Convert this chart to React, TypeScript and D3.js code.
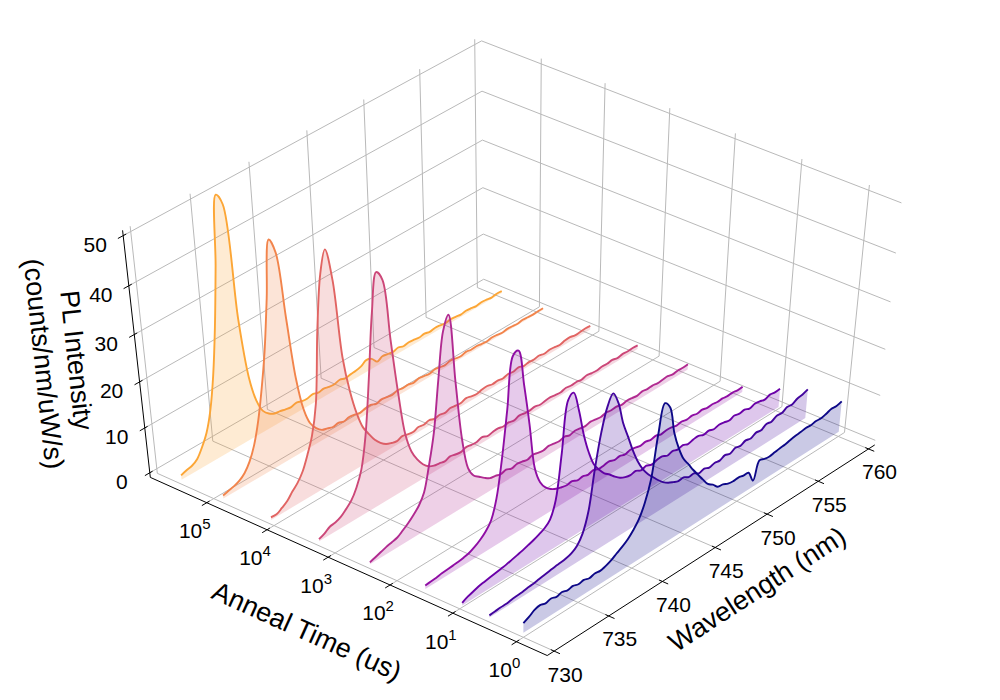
import React from "react";
import * as d3 from "d3";

// sampled wavelengths (nm)
const WAVELENGTH_NM = [
  730, 730.5, 731, 731.5, 732, 732.5, 733, 733.5, 734, 734.5, 735, 735.5, 736, 736.5, 737, 737.5,
  738, 738.5, 739, 739.5, 740, 740.5, 741, 741.5, 742, 742.5, 743, 743.5, 744, 744.5, 745, 745.5,
  746, 746.5, 747, 747.5, 748, 748.5, 749, 749.5, 750, 750.5, 751, 751.5, 752, 752.5, 753, 753.5,
  754, 754.5, 755, 755.5, 756, 756.5, 757, 757.5, 758, 758.5, 759, 759.5, 760,
];

// anneal time of each spectrum (us), back to front
const ANNEAL_TIME_US = [340000, 68000, 11000, 1800, 270, 35, 9.1, 3.4, 1];

// PL intensity (counts/nm/uW/s) on the wavelength grid
const PL_340000 = [1.0, 1.4, 1.7, 2.5, 4.4, 6.9, 11.2, 18.0, 27.5, 39.5, 53.0, 50.5, 26.5, 13.5, 7.6, 4.6, 3.3, 2.6, 2.4, 2.1, 1.9, 2.2, 1.8, 1.7, 2.0, 1.6, 1.8, 1.5, 1.4, 1.7, 1.3, 1.5, 1.6, 1.9, 2.6, 2.2, 0.9, 1.4, 1.2, 1.0, 1.3, 0.9, 1.1, 1.0, 0.8, 1.0, 0.7, 0.9, 0.8, 0.6, 0.8, 0.7, 0.5, 0.7, 0.6, 0.4, 0.6, 0.5, 0.3, 0.5, 0.4];
const PL_68000 = [0.7, 1.0, 1.3, 1.8, 2.8, 4.6, 7.5, 12.0, 18.2, 25.7, 36.0, 47.2, 44.0, 30.0, 16.5, 9.0, 5.2, 3.4, 2.3, 1.9, 1.5, 1.7, 1.3, 1.6, 1.4, 1.1, 1.4, 1.5, 1.0, 1.3, 1.1, 0.9, 1.2, 1.0, 1.1, 0.8, 1.1, 0.9, 0.7, 1.0, 0.8, 0.6, 0.9, 0.7, 0.5, 0.8, 0.6, 0.7, 0.5, 0.4, 0.6, 0.5, 0.3, 0.5, 0.4, 0.3, 0.5, 0.4, 0.3, 0.4, 0.4];
const PL_11000 = [0.6, 0.5, 1.2, 2.0, 3.4, 4.6, 6.4, 9.3, 12.8, 19.0, 34.0, 44.5, 48.8, 42.0, 25.5, 17.5, 12.0, 8.2, 6.0, 4.0, 2.6, 1.6, 1.1, 0.8, 1.2, 0.9, 0.7, 1.1, 0.9, 1.2, 0.8, 1.0, 0.7, 1.1, 0.9, 0.8, 1.2, 0.9, 0.7, 1.0, 1.1, 0.8, 0.9, 0.7, 1.0, 0.8, 1.1, 0.7, 0.9, 0.8, 1.0, 0.7, 0.9, 0.8, 0.6, 0.9, 1.0, 0.7, 0.8, 0.9, 0.8];
const PL_1800 = [0.5, 1.0, 1.8, 2.0, 2.5, 3.5, 4.7, 6.8, 10.0, 16.7, 28.0, 41.0, 48.5, 46.3, 33.5, 21.5, 12.0, 7.5, 5.0, 3.2, 2.0, 1.4, 1.2, 0.9, 1.3, 1.0, 0.8, 1.2, 1.0, 0.9, 1.3, 0.8, 1.0, 1.1, 0.8, 1.0, 0.7, 1.1, 0.9, 0.8, 1.0, 0.7, 0.9, 1.0, 0.8, 0.7, 1.0, 0.8, 0.9, 0.7, 1.0, 0.8, 0.7, 0.9, 0.8, 1.0, 0.7, 0.9, 0.8, 0.9, 0.8];
const PL_270 = [0.4, 0.8, 1.2, 1.6, 1.9, 2.2, 3.0, 3.9, 5.0, 6.3, 8.5, 13.7, 20.0, 30.5, 39.8, 42.5, 28.0, 15.0, 8.0, 5.6, 4.6, 3.6, 2.8, 2.6, 2.2, 2.5, 2.0, 2.3, 2.1, 1.8, 2.2, 1.9, 1.7, 2.0, 1.8, 1.6, 1.9, 1.5, 1.8, 1.6, 1.4, 1.7, 1.5, 1.3, 1.6, 1.4, 1.5, 1.2, 1.4, 1.3, 1.1, 1.4, 1.2, 1.3, 1.1, 1.2, 1.3, 1.0, 1.2, 1.1, 1.2];
const PL_35 = [0.8, 0.9, 1.0, 1.2, 1.3, 1.4, 1.5, 1.7, 2.0, 2.6, 3.4, 4.5, 6.2, 10.3, 18.0, 28.0, 38.4, 38.8, 31.0, 22.0, 11.8, 8.0, 6.1, 5.0, 4.3, 3.9, 3.6, 3.8, 3.2, 3.4, 3.0, 3.3, 2.8, 2.9, 3.1, 2.6, 2.8, 2.4, 2.7, 2.5, 2.2, 2.4, 2.1, 2.3, 1.9, 2.1, 2.0, 1.7, 1.9, 1.6, 1.8, 1.5, 1.7, 1.4, 1.5, 1.3, 1.4, 1.2, 1.3, 1.1, 1.2];
const PL_9 = [0.6, 1.2, 1.6, 2.0, 2.2, 2.4, 2.6, 2.8, 3.0, 3.3, 3.6, 3.9, 4.3, 4.7, 5.2, 5.8, 7.0, 10.5, 20.0, 30.5, 31.4, 27.0, 21.0, 16.5, 13.2, 11.3, 9.8, 8.8, 7.6, 6.6, 6.0, 5.7, 5.9, 5.3, 5.6, 5.1, 5.4, 5.5, 4.9, 5.2, 4.8, 5.1, 4.6, 4.9, 5.0, 4.5, 4.7, 4.3, 4.6, 4.4, 4.1, 4.5, 4.2, 4.4, 3.9, 4.3, 4.1, 3.8, 4.2, 4.0, 4.1];
const PL_3 = [0.5, 0.6, 0.7, 0.7, 0.9, 1.0, 1.1, 1.3, 1.4, 1.6, 1.8, 2.0, 2.2, 2.3, 2.5, 2.9, 3.8, 5.8, 10.0, 18.5, 25.5, 30.2, 32.3, 29.6, 24.6, 21.0, 17.3, 14.2, 11.8, 10.0, 8.6, 7.2, 6.0, 5.1, 4.5, 4.0, 4.1, 3.4, 3.5, 2.8, 3.1, 2.6, 2.9, 2.7, 3.2, 2.8, 3.4, 3.1, 3.6, 3.3, 3.9, 3.7, 4.4, 4.2, 4.8, 4.7, 5.3, 5.2, 5.8, 6.0, 6.4];
const PL_1 = [2.2, 2.8, 3.6, 3.9, 3.5, 3.8, 3.4, 3.7, 3.3, 3.5, 3.1, 3.3, 2.9, 3.2, 3.0, 3.3, 3.8, 4.6, 5.3, 6.2, 7.5, 9.2, 12.1, 16.5, 25.5, 31.2, 29.6, 23.5, 19.5, 16.5, 14.6, 12.6, 10.8, 9.0, 7.3, 6.4, 5.2, 5.0, 4.4, 4.2, 4.3, 4.0, 3.9, 1.4, 5.2, 4.8, 4.6, 4.8, 5.0, 5.1, 5.4, 5.6, 5.7, 5.9, 5.8, 6.0, 5.9, 6.2, 6.6, 6.5, 6.8];

const SPECTRA = [PL_340000, PL_68000, PL_11000, PL_1800, PL_270, PL_35, PL_9, PL_3, PL_1];

// axis limits and ticks
const WL_LIM = [730, 760];
const LOGT_LIM = [-0.35, 5.82];
const Z_LIM = [0, 50];
const WL_TICKS = [730, 735, 740, 745, 750, 755, 760];
const TIME_TICK_EXP = [0, 1, 2, 3, 4, 5];
const Z_TICKS = [0, 10, 20, 30, 40, 50];

const W = 1000;
const H = 700;
const ELEV = 47;
const AZIM = -140;
const DIST = 10;
const SCALE_X = 533;
const SCALE_Y = 362;
const CENTER_X = 514;
const CENTER_Y = 342;
const FONT = "'Liberation Sans', Arial, Helvetica, sans-serif";

// matplotlib pads the drawn box by 1/48 of the range on each side
const pad = (lim: number[]) => {
  const d = (lim[1] - lim[0]) / 48;
  return [lim[0] - d, lim[1] + d];
};
const logBox = pad(LOGT_LIM);
const xN = d3.scaleLinear().domain(pad(WL_LIM)).range([-0.5, 0.5]);
const yN = d3.scaleLog().domain([10 ** logBox[0], 10 ** logBox[1]]).range([-0.5, 0.5]);
const zN = d3.scaleLinear().domain(pad(Z_LIM)).range([-0.5, 0.5]);

const th = (ELEV * Math.PI) / 180;
const ph = (AZIM * Math.PI) / 180;
const U = [-Math.sin(ph), Math.cos(ph), 0];
const V = [-Math.sin(th) * Math.cos(ph), -Math.sin(th) * Math.sin(ph), Math.cos(th)];
const VW = [Math.cos(th) * Math.cos(ph), Math.cos(th) * Math.sin(ph), Math.sin(th)];

type P2 = [number, number];
const dot = (a: number[], p: number[]) => a[0] * p[0] + a[1] * p[1] + a[2] * p[2];
function projN(p: number[]): P2 {
  const f = DIST / (DIST - dot(VW, p));
  return [CENTER_X + SCALE_X * dot(U, p) * f, CENTER_Y - SCALE_Y * dot(V, p) * f];
}
const proj = (wl: number, t: number, z: number) => projN([xN(wl), yN(t), zN(z)]);

const color = d3.scaleSequential(d3.interpolatePlasma).domain([0, 10]);
const curve = d3.line<P2>().curve(d3.curveCatmullRom.alpha(0.5));
const seg = (a: P2, b: P2) => `M${a[0]},${a[1]}L${b[0]},${b[1]}`;

export default function App() {
  const grid: string[] = [];
  // floor
  WL_TICKS.forEach((wl) => grid.push(seg(projN([xN(wl), -0.5, -0.5]), projN([xN(wl), 0.5, -0.5]))));
  TIME_TICK_EXP.forEach((e) => grid.push(seg(projN([-0.5, yN(10 ** e), -0.5]), projN([0.5, yN(10 ** e), -0.5]))));
  // back wall at longest time
  WL_TICKS.forEach((wl) => grid.push(seg(projN([xN(wl), 0.5, -0.5]), projN([xN(wl), 0.5, 0.5]))));
  Z_TICKS.forEach((z) => grid.push(seg(projN([-0.5, 0.5, zN(z)]), projN([0.5, 0.5, zN(z)]))));
  // back wall at longest wavelength
  TIME_TICK_EXP.forEach((e) => grid.push(seg(projN([0.5, yN(10 ** e), -0.5]), projN([0.5, yN(10 ** e), 0.5]))));
  Z_TICKS.forEach((z) => grid.push(seg(projN([0.5, -0.5, zN(z)]), projN([0.5, 0.5, zN(z)]))));

  const OUT = 0.014;
  const IN = 0.008;

  const spectra = SPECTRA.map((vals, i) => {
    const t = ANNEAL_TIME_US[i];
    const pts = vals.map((z, j) => proj(WAVELENGTH_NM[j], t, z));
    const last = WAVELENGTH_NM[WAVELENGTH_NM.length - 1];
    const b1 = proj(last, t, 0);
    const b0 = proj(WAVELENGTH_NM[0], t, 0);
    const c = color(8 - i);
    const top = curve(pts) as string;
    return (
      <g key={t}>
        <path d={`${top}L${b1[0]},${b1[1]}L${b0[0]},${b0[1]}Z`} fill={c} fillOpacity={0.22} stroke="none" />
        <path d={top} fill="none" stroke={c} strokeWidth={1.9} strokeLinejoin="round" />
      </g>
    );
  });

  return (
    <>
      <style>{`body{margin:0}`}</style>
      <svg width={W} height={H} viewBox={`0 0 ${W} ${H}`} style={{ display: "block", background: "#fff", fontFamily: FONT }}>
        <g fill="none" stroke="#b9b9b9" strokeWidth={1}>
          {grid.map((d, i) => (
            <path key={i} d={d} />
          ))}
        </g>

        <g stroke="#000" strokeWidth={1} fill="none">
          <path d={seg(projN([-0.5, -0.5, -0.5]), projN([-0.5, 0.5, -0.5]))} />
          <path d={seg(projN([-0.5, -0.5, -0.5]), projN([0.5, -0.5, -0.5]))} />
          <path d={seg(projN([-0.5, 0.5, -0.5]), projN([-0.5, 0.5, 0.5]))} />
          {WL_TICKS.map((wl) => (
            <path key={"wt" + wl} d={seg(projN([xN(wl), -0.5 - OUT, -0.5]), projN([xN(wl), -0.5 + IN, -0.5]))} />
          ))}
          {TIME_TICK_EXP.map((e) => (
            <path key={"tt" + e} d={seg(projN([-0.5 - OUT, yN(10 ** e), -0.5]), projN([-0.5 + IN, yN(10 ** e), -0.5]))} />
          ))}
          {Z_TICKS.map((z) => (
            <path key={"zt" + z} d={seg(projN([-0.5 - OUT, 0.5, zN(z)]), projN([-0.5 + IN, 0.5, zN(z)]))} />
          ))}
        </g>

        <g>{spectra}</g>

        <g fontSize={21} fill="#000" textAnchor="middle">
          {WL_TICKS.map((wl) => {
            const p = projN([xN(wl), -0.5, -0.5]);
            return (
              <text key={"wl" + wl} x={p[0] + 11} y={p[1] + 23 + 7.5}>
                {wl}
              </text>
            );
          })}
          {TIME_TICK_EXP.map((e) => {
            const p = projN([-0.5, yN(10 ** e), -0.5]);
            return (
              <text key={"tl" + e} x={p[0] - 12} y={p[1] + 28 + 7.5}>
                10
                <tspan dy={-9} fontSize={15}>
                  {e}
                </tspan>
              </text>
            );
          })}
          {Z_TICKS.map((z) => {
            const p = projN([-0.5, 0.5, zN(z)]);
            return (
              <text key={"zl" + z} x={p[0] - 28} y={p[1] + 9 + 7.5}>
                {z}
              </text>
            );
          })}
        </g>

        <g fontSize={27} fill="#000" textAnchor="middle">
          <text transform="translate(307,631) rotate(24.2)" dy="0.35em">
            Anneal Time (us)
          </text>
          <text transform="translate(757,589) rotate(-33)" dy="0.35em">
            Wavelength (nm)
          </text>
          <text transform="translate(60.5,362) rotate(84)">
            <tspan x={0} y={-7}>
              PL Intensity
            </tspan>
            <tspan x={0} y={26}>
              (counts/nm/uW/s)
            </tspan>
          </text>
        </g>
      </svg>
    </>
  );
}
